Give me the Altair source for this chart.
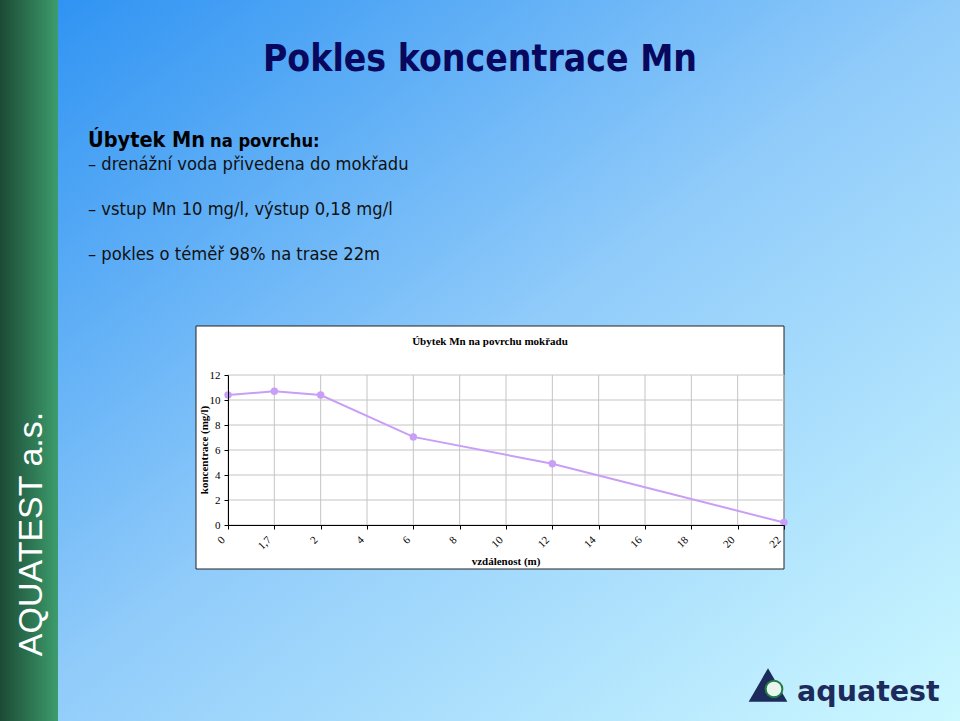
import altair as alt
import pandas as pd

# ---------------- data ----------------
categories = ["0", "1,7", "2", "4", "6", "8", "10", "12", "14", "16", "18", "20", "22"]
measured_at = ["0", "1,7", "2", "6", "12", "22"]
concentration = [10.4, 10.7, 10.4, 7.05, 4.9, 0.2]
y_ticks = [0, 2, 4, 6, 8, 10, 12]

slide_title = "Pokles koncentrace Mn"
chart_title = "Úbytek Mn na povrchu mokřadu"
y_title = "koncentrace  (mg/l)"
x_title = "vzdálenost (m)"
bullets = [
    "– drenážní voda přivedena do mokřadu",
    "– vstup Mn 10 mg/l, výstup 0,18 mg/l",
    "– pokles o téměř 98% na trase 22m",
]

# ---------------- layout helpers ----------------
W, H = 556, 150          # plot area
L, T = 228, 375          # plot area origin on the slide


def px(x):
    return x - L


def py(y):
    return y - T


one = pd.DataFrame({"k": [0]})
line_df = pd.DataFrame({"cat": measured_at, "val": concentration,
                        "i": list(range(len(measured_at)))})

xscale = alt.Scale(domain=categories, type="point", padding=0)
yscale = alt.Scale(domain=[0, 12], nice=False)

SANS = "DejaVu Sans Condensed"
SERIF = "Liberation Serif"


def rect(x1, y1, x2, y2, **kw):
    return alt.Chart(one).mark_rect(**kw).encode(
        x=alt.value(px(x1)), x2=alt.value(px(x2)),
        y=alt.value(py(y1)), y2=alt.value(py(y2)))


def text(t, x, y, **kw):
    return alt.Chart(one).mark_text(text=t, **kw).encode(
        x=alt.value(px(x)), y=alt.value(py(y)))


# slide background
bg = rect(0, 0, 960, 721, fill=alt.LinearGradient(
    gradient="linear", x1=0, y1=0, x2=1, y2=1,
    stops=[alt.GradientStop(offset=0, color="#2a90f2"),
           alt.GradientStop(offset=0.5, color="#90cbfa"),
           alt.GradientStop(offset=1, color="#ccf8ff")]))

green = rect(0, 0, 58, 721, fill=alt.LinearGradient(
    gradient="linear", x1=0, y1=0, x2=1, y2=0,
    stops=[alt.GradientStop(offset=0, color="#1c4a35"),
           alt.GradientStop(offset=1, color="#3c9c6c")]))

side_text = text("AQUATEST a.s.", 42, 534, angle=270, align="center",
                 baseline="alphabetic", font="Liberation Sans",
                 fontSize=34, color="white")

title = text(slide_title, 480, 71, align="center", baseline="alphabetic",
             font=SANS, fontSize=37, fontWeight="bold", color="#08085e")

head1 = text("Úbytek Mn", 88, 147, align="left", baseline="alphabetic",
             font=SANS, fontSize=21.5, fontWeight="bold", color="#000000")
head2 = text("na povrchu:", 210, 147, align="left", baseline="alphabetic",
             font=SANS, fontSize=18.2, fontWeight="bold", color="#000000")
b1 = text(bullets[0], 88, 170, align="left", baseline="alphabetic",
          font=SANS, fontSize=18.2, color="#111111")
b2 = text(bullets[1], 88, 215, align="left", baseline="alphabetic",
          font=SANS, fontSize=18.2, color="#111111")
b3 = text(bullets[2], 88, 260, align="left", baseline="alphabetic",
          font=SANS, fontSize=18.2, color="#111111")

# chart box
box = rect(196, 326, 784, 569, fill="white", stroke="#222222", strokeWidth=1)
ctitle = text(chart_title, 490, 345, align="center", baseline="alphabetic",
              font=SERIF, fontSize=11, fontWeight="bold", color="black")
ytitle = text(y_title, 208, 450, angle=270, align="center",
              baseline="alphabetic", font=SERIF, fontSize=11,
              fontWeight="bold", color="black")
xtitle = text(x_title, 506, 565, align="center", baseline="alphabetic",
              font=SERIF, fontSize=11, fontWeight="bold", color="black")

x_axis = alt.Axis(title=None, labelAngle=-45, labelAlign="right",
                  labelBaseline="middle", labelFont=SERIF, labelFontSize=11,
                  labelColor="black", domainColor="black", tickColor="black",
                  tickSize=4, labelPadding=9, labelOffset=-5, grid=False,
                  zindex=1)
y_axis = alt.Axis(title=None, values=y_ticks, labelFont=SERIF,
                  labelFontSize=11, labelColor="black", domainColor="black",
                  tickColor="black", tickSize=4, labelPadding=4, grid=False,
                  zindex=1)

# gridlines
vgrid = alt.Chart(pd.DataFrame({"cat": categories})).mark_rule(
    color="#c4c4c4", strokeWidth=1).encode(
    x=alt.X("cat:O", scale=xscale, axis=x_axis))
hgrid = alt.Chart(pd.DataFrame({"v": y_ticks})).mark_rule(
    color="#c4c4c4", strokeWidth=1).encode(
    y=alt.Y("v:Q", scale=yscale, axis=y_axis))

line = alt.Chart(line_df).mark_line(color="#c89ef6", strokeWidth=2).encode(
    x=alt.X("cat:O", scale=xscale, axis=x_axis),
    y=alt.Y("val:Q", scale=yscale, axis=y_axis),
    order=alt.Order("i:Q"))
pts = alt.Chart(line_df).mark_point(filled=True, size=55, opacity=1,
                                    color="#c89ef6").encode(
    x=alt.X("cat:O", scale=xscale, axis=x_axis),
    y=alt.Y("val:Q", scale=yscale, axis=y_axis))

# logo
tri = alt.Chart(one).mark_point(shape="triangle-up", filled=True, size=1500,
                                opacity=1, color="#1d2a5c").encode(
    x=alt.value(px(768)), y=alt.value(py(685)))
globe = alt.Chart(one).mark_point(shape="circle", filled=True, size=280,
                                  opacity=1, color="#e8f6ee",
                                  stroke="#237a45", strokeWidth=2).encode(
    x=alt.value(px(774)), y=alt.value(py(689)))
logo_text = text("aquatest", 797, 701, align="left", baseline="alphabetic",
                 font="DejaVu Sans", fontSize=28.5, fontWeight="bold",
                 color="#1d2a5c")

chart = alt.layer(
    bg, green, side_text, title, head1, head2, b1, b2, b3,
    box, ctitle, ytitle, xtitle, vgrid, hgrid, line, pts,
    tri, globe, logo_text,
).properties(
    width=W, height=H,
    padding={"left": L, "top": T, "right": 960 - L - W, "bottom": 721 - T - H},
    autosize=alt.AutoSizeParams(type="none"),
).configure_view(stroke=None)

chart.save("out.html", embed_options={"renderer": "svg", "actions": False})
